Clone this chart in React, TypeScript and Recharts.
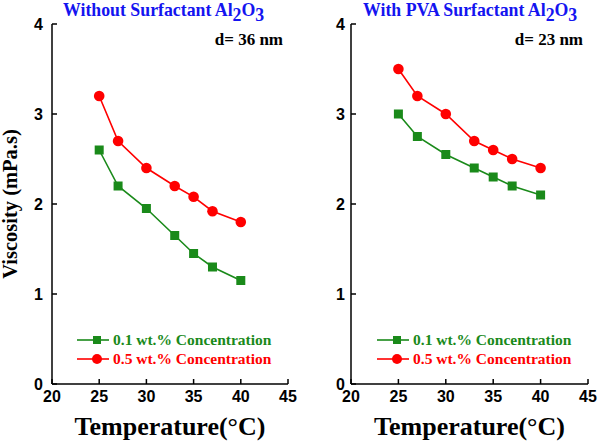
import React from "react";
import {
  LineChart,
  Line,
  XAxis,
  YAxis,
} from "recharts";

const temps = [25, 27, 30, 33, 35, 37, 40];
const noSurf01 = [2.6, 2.2, 1.95, 1.65, 1.45, 1.3, 1.15];
const noSurf05 = [3.2, 2.7, 2.4, 2.2, 2.08, 1.92, 1.8];
const pva01 = [3.0, 2.75, 2.55, 2.4, 2.3, 2.2, 2.1];
const pva05 = [3.5, 3.2, 3.0, 2.7, 2.6, 2.5, 2.4];
const xTicks = [20, 25, 30, 35, 40, 45];
const yTicks = [0, 1, 2, 3, 4];
const seriesNames = ["0.1 wt.% Concentration", "0.5 wt.% Concentration"];

const GREEN = "#1a8a1a";
const RED = "#ff0000";
const BLUE = "#1414f0";
const SERIF = "'Liberation Serif', 'Times New Roman', serif";
const SANS = "'Liberation Sans', Arial, sans-serif";

const SquareDot = (props: any) => {
  const { cx, cy, index } = props;
  if (cx == null || cy == null) return <g key={`sq-${index}`} />;
  return <rect key={`sq-${index}`} x={cx - 4.5} y={cy - 4.5} width={9} height={9} fill={GREEN} />;
};

// legend drawn as an overlay so it doesn't take room from the plot
const LegendBox = () => (
  <svg width={210} height={40} style={{ overflow: "visible" }}>
    {[GREEN, RED].map((c, i) => (
      <g key={i} transform={`translate(0, ${i * 19 + 7})`}>
        <line x1={0} x2={32} y1={0} y2={0} stroke={c} strokeWidth={1.6} />
        {i === 0 ? (
          <rect x={16} y={-4} width={8} height={8} fill={c} />
        ) : (
          <circle cx={20} cy={0} r={5} fill={c} />
        )}
        <text x={36} y={5} fill={c} fontFamily={SERIF} fontWeight="bold" fontSize={15.5}>
          {seriesNames[i]}
        </text>
      </g>
    ))}
  </svg>
);

function Panel({
  low,
  high,
  title,
  size,
  left,
}: {
  low: number[];
  high: number[];
  title: string;
  size: string;
  left: boolean;
}) {
  const data = temps.map((t, i) => ({ t, low: low[i], high: high[i] }));
  const axisW = left ? 52 : 51;
  return (
    <div style={{ position: "relative", width: 300, height: 443 }}>
      <LineChart
        width={300}
        height={443}
        data={data}
        margin={{ top: 24, right: 12, bottom: 0, left: 0 }}
      >
        <XAxis
          dataKey="t"
          type="number"
          domain={[20, 45]}
          ticks={xTicks}
          tickSize={-5}
          tickMargin={12}
          height={59}
          stroke="#000"
          strokeWidth={1.5}
          tick={{ fill: "#000", fontFamily: SANS, fontWeight: "bold", fontSize: 16 }}
          label={{
            value: "Temperature(°C)",
            position: "insideBottom",
            offset: 8,
            style: { fill: "#000", fontFamily: SERIF, fontWeight: "bold", fontSize: 26 },
          }}
        />
        <XAxis xAxisId="top" orientation="top" type="number" domain={[20, 45]} tick={false} tickLine={false} height={0} stroke="#000" strokeWidth={1.5} />
        <YAxis
          type="number"
          domain={[0, 4]}
          ticks={yTicks}
          width={axisW}
          tickSize={-5}
          tickMargin={left ? 14 : 11}
          stroke="#000"
          strokeWidth={1.5}
          tick={{ fill: "#000", fontFamily: SANS, fontWeight: "bold", fontSize: 16 }}
          label={
            left
              ? {
                  value: "Viscosity (mPa.s)",
                  angle: -90,
                  position: "insideLeft",
                  offset: 0,
                  dx: 10,
                  style: { textAnchor: "middle", fill: "#000", fontFamily: SERIF, fontWeight: "bold", fontSize: 20.5 },
                }
              : undefined
          }
        />
        <YAxis yAxisId="right" orientation="right" type="number" domain={[0, 4]} tick={false} tickLine={false} width={0} stroke="#000" strokeWidth={1.5} />
        <Line
          dataKey="low"
          stroke={GREEN}
          strokeWidth={1.6}
          dot={SquareDot}
          isAnimationActive={false}
        />
        <Line
          dataKey="high"
          stroke={RED}
          strokeWidth={1.6}
          dot={{ r: 5.3, fill: RED, stroke: RED, strokeWidth: 0 }}
          isAnimationActive={false}
        />
      </LineChart>
      <div style={{ position: "absolute", left: 77, top: 333 }}>
        <LegendBox />
      </div>
      <div
        style={{
          position: "absolute",
          top: 0,
          left: 63,
          fontFamily: SERIF,
          fontWeight: "bold",
          fontSize: 17.8,
          color: BLUE,
          whiteSpace: "nowrap",
        }}
      >
        {title} Al<span style={{ position: "relative", top: 5 }}>2</span>O
        <span style={{ position: "relative", top: 5 }}>3</span>
      </div>
      <div
        style={{
          position: "absolute",
          top: 30,
          right: 17,
          fontFamily: SERIF,
          fontWeight: "bold",
          fontSize: 17,
          color: "#000",
          whiteSpace: "nowrap",
        }}
      >
        {size}
      </div>
    </div>
  );
}

export default function App() {
  return (
    <div
      style={{
        position: "absolute",
        left: 0,
        top: 0,
        width: 600,
        height: 443,
        background: "#fff",
        display: "flex",
      }}
    >
      <Panel low={noSurf01} high={noSurf05} title="Without Surfactant" size="d= 36 nm" left={true} />
      <Panel low={pva01} high={pva05} title="With PVA Surfactant" size="d= 23 nm" left={false} />
    </div>
  );
}
